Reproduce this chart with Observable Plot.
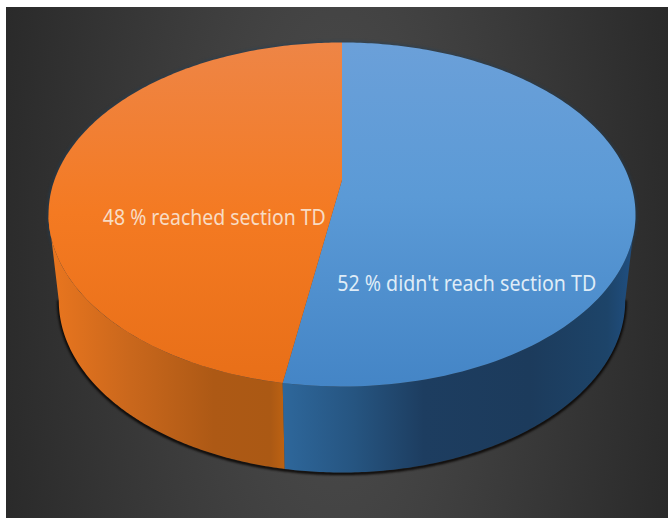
<!DOCTYPE html>
<html>
<head>
<meta charset="utf-8">
<script src="https://cdn.jsdelivr.net/npm/d3@7"></script>
<script src="https://cdn.jsdelivr.net/npm/@observablehq/plot@0.6"></script>
<style>
  html, body { margin: 0; padding: 0; background: #fff; }
</style>
</head>
<body>
<script>
// Share of runs per outcome, clockwise from twelve o'clock.
const outcomes = ["didn't reach section TD", "reached section TD"];
const shares = [52, 48];

// Look of the tilted disc, in the unit space of the x and y scales.
const tilt = 0.45;         // perspective pull towards the viewer
const hub = [0, 0.2];      // where the slices meet on the top face
const depth = 0.5;         // thickness of the disc
const baseNarrow = 0.965;  // the lower rim recedes slightly

const rim = (angle) => {
  const u = Math.sin(angle), v = Math.cos(angle), d = 1 + tilt * v;
  return [u * Math.sqrt(1 - tilt * tilt) / d, (v + tilt) / d];
};
const sweep = (a0, a1, n = 160) => d3.range(n + 1).map((i) => a0 + (a1 - a0) * i / n);
const lowered = ([x, y]) => [x * baseNarrow, y - depth];

// Angles of the slice boundaries.
const total = d3.sum(shares);
const turn = shares[0] / total * 2 * Math.PI;
const frontRight = Math.acos(-tilt);
const frontLeft = 2 * Math.PI - frontRight;

const topFace = (a0, a1) => [hub, ...sweep(a0, a1).map(rim)];
const wall = (a0, a1) => {
  const arc = sweep(a0, a1).map(rim);
  return [...arc, ...arc.slice().reverse().map(lowered)];
};
const baseArc = sweep(frontRight, frontLeft, 300).map((a) => lowered(rim(a)));
const outline = sweep(0, 2 * Math.PI, 300).map(rim);

const X = (d) => d[0], Y = (d) => d[1];

const defs = () => d3.create("svg:defs").html(`
  <linearGradient id="faceBlue" x1="0" y1="0" x2="0" y2="1">
    <stop offset="0" stop-color="#6ba0d9"/>
    <stop offset="0.45" stop-color="#5b9ad6"/>
    <stop offset="1" stop-color="#4485c6"/>
  </linearGradient>
  <linearGradient id="faceOrange" x1="0" y1="0" x2="0" y2="1">
    <stop offset="0" stop-color="#ee8546"/>
    <stop offset="0.5" stop-color="#f47a22"/>
    <stop offset="1" stop-color="#e86f18"/>
  </linearGradient>
  <linearGradient id="wallOrange" x1="0" y1="0" x2="1" y2="0">
    <stop offset="0" stop-color="#ea761f"/>
    <stop offset="0.35" stop-color="#c9671c"/>
    <stop offset="0.7" stop-color="#ad5915"/>
    <stop offset="0.94" stop-color="#ab5914"/>
    <stop offset="1" stop-color="#bd6212"/>
  </linearGradient>
  <linearGradient id="wallBlue" x1="0" y1="0" x2="1" y2="0">
    <stop offset="0" stop-color="#2e679b"/>
    <stop offset="0.2" stop-color="#265581"/>
    <stop offset="0.4" stop-color="#1d3d60"/>
    <stop offset="0.7" stop-color="#1c3b5c"/>
    <stop offset="0.92" stop-color="#1d4469"/>
    <stop offset="1" stop-color="#205084"/>
  </linearGradient>`).node();

const labelSpots = [[0.425, -0.405], [-0.435, -0.02]];
const labelWidths = [259, 223];
const labelColors = ["#dfecf7", "#f8dcc4"];
const labels = outcomes.map((name, i) => ({
  text: `${shares[i]} % ${name}`,
  x: labelSpots[i][0],
  y: labelSpots[i][1],
  color: labelColors[i],
  width: labelWidths[i]
}));

const chart = Plot.plot({
  width: 668,
  height: 518,
  marginLeft: 48,
  marginRight: 33,
  marginTop: 42,
  marginBottom: 132,
  x: {domain: [-1, 1], axis: null},
  y: {domain: [-1, 1], axis: null},
  style: {
    background: "radial-gradient(ellipse 345px 900px at center, #4e4e4e 0%, #2a2a2a 100%) 6px 7px / 662px 511px no-repeat #fff"
  },
  marks: [
    defs,
    // Soft contact shadow and rim glow behind the disc.
    Plot.line(baseArc, {x: X, y: Y, stroke: "#0a0705", strokeWidth: 3, imageFilter: "blur(1px)", dy: 1}),
    Plot.line(outline, {x: X, y: Y, stroke: "#1c3f5e", strokeWidth: 2.5, strokeOpacity: 0.6, imageFilter: "blur(1.5px)"}),
    // Side wall, then the top face.
    Plot.line(wall(turn, frontLeft), {x: X, y: Y, fill: "url(#wallOrange)", stroke: "none"}),
    Plot.line(wall(frontRight, turn), {x: X, y: Y, fill: "url(#wallBlue)", stroke: "none"}),
    Plot.line(topFace(0, turn), {x: X, y: Y, fill: "url(#faceBlue)", stroke: "none"}),
    Plot.line(topFace(turn, 2 * Math.PI), {x: X, y: Y, fill: "url(#faceOrange)", stroke: "none"}),
    Plot.text(labels, {
      x: "x",
      y: "y",
      text: "text",
      fill: "color",
      fontFamily: "Noto Sans",
      fontSize: 21,
      lineAnchor: "middle",
      textAnchor: "middle"
    })
  ]
});

// The slice captions are set in a condensed cut of the face.
d3.select(chart).selectAll("text").each(function () {
  const label = labels.find((d) => d.text === this.textContent);
  if (label) {
    this.setAttribute("textLength", label.width);
    this.setAttribute("lengthAdjust", "spacingAndGlyphs");
  }
});
document.body.append(chart);
</script>
</body>
</html>
